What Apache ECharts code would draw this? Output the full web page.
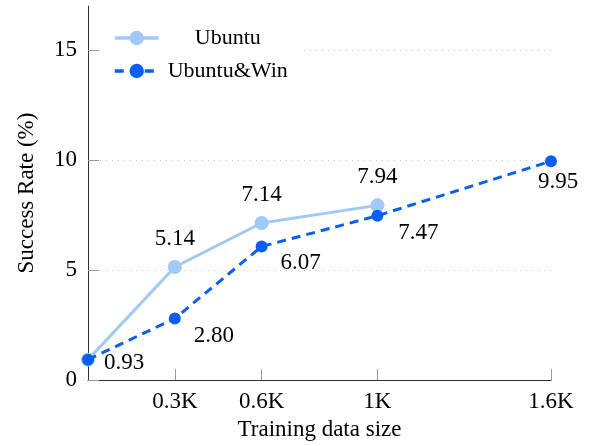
<!DOCTYPE html>
<html>
<head>
<meta charset="utf-8">
<script src="https://cdn.jsdelivr.net/npm/echarts@6/dist/echarts.min.js"></script>
<style>html,body{margin:0;padding:0;background:#fff}#c{width:589px;height:446px}</style>
</head>
<body>
<div id="c"></div>
<script>
const xValues = [0, 0.3, 0.6, 1.0, 1.6];
const ubuntu = [0.93, 5.14, 7.14, 7.94];
const ubuntuWin = [0.93, 2.80, 6.07, 7.47, 9.95];
const xTickValues = [0.3, 0.6, 1.0, 1.6];
const xTickLabels = ['0.3K', '0.6K', '1K', '1.6K'];
const yTickValues = [0, 5, 10, 15];
const seriesNames = ['Ubuntu', 'Ubuntu&Win'];

const FONT = '"Liberation Serif", "Times New Roman", serif';
const LIGHT = '#a0c9f7';
const DARK = '#0a5ef2';
const winOffsets = [[36, 3], [39, 17], [39, 16], [41, 17], [7, 21]];

const chart = echarts.init(document.getElementById('c'), null, {renderer: 'canvas'});
chart.setOption({
  animation: false,
  backgroundColor: '#fff',
  textStyle: {fontFamily: FONT},
  grid: {left: 88, right: 38, top: 6, bottom: 65, containLabel: false},
  legend: {
    left: 100, top: 19, orient: 'vertical',
    backgroundColor: '#fff',
    padding: [8, 15, 8, 13],
    itemWidth: 44, itemHeight: 18, itemGap: 11,
    data: [
      {name: seriesNames[0], lineStyle: {width: 3.5}},
      {name: seriesNames[1], lineStyle: {width: 3.5}}
    ],
    formatter: n => '{a|' + n + '}',
    textStyle: {
      fontFamily: FONT, fontSize: 22, color: '#000',
      rich: {a: {width: 128, align: 'center', fontFamily: FONT, fontSize: 22, color: '#000'}}
    }
  },
  xAxis: {
    type: 'value', min: 0, max: 1.6,
    name: 'Training data size', nameLocation: 'middle', nameGap: 37,
    nameTextStyle: {fontFamily: FONT, fontSize: 23, color: '#000'},
    axisLine: {show: true, lineStyle: {color: '#333', width: 1}},
    axisTick: {show: true, inside: true, length: 11, lineStyle: {color: '#999'}, customValues: xTickValues},
    axisLabel: {
      customValues: xTickValues, margin: 10,
      fontFamily: FONT, fontSize: 23, color: '#000',
      formatter: v => xTickLabels[xTickValues.indexOf(v)] || ''
    },
    splitLine: {show: false}
  },
  yAxis: {
    type: 'value', min: 0, max: 17,
    name: 'Success Rate (%)', nameLocation: 'middle', nameGap: 50,
    nameTextStyle: {fontFamily: FONT, fontSize: 23, color: '#000'},
    axisLine: {show: true, lineStyle: {color: '#333', width: 1}},
    axisTick: {show: true, inside: true, length: 11, lineStyle: {color: '#999'}, customValues: yTickValues},
    axisLabel: {customValues: yTickValues, margin: 11, fontFamily: FONT, fontSize: 23, color: '#000'},
    splitLine: {show: true, lineStyle: {color: '#ccc', type: [1, 5], width: 1}}
  },
  series: [
    {
      name: seriesNames[0], type: 'line',
      data: ubuntu.map((v, i) => ({
        value: [xValues[i], v],
        label: {show: i > 0, position: 'inside', offset: [0, -28]}
      })),
      symbol: 'circle', symbolSize: 14,
      lineStyle: {color: LIGHT, width: 3},
      itemStyle: {color: LIGHT},
      label: {fontFamily: FONT, fontSize: 23, color: '#000', formatter: p => p.value[1].toFixed(2)},
      z: 2
    },
    {
      name: seriesNames[1], type: 'line',
      data: ubuntuWin.map((v, i) => ({
        value: [xValues[i], v],
        label: {show: true, position: 'inside', offset: winOffsets[i]}
      })),
      symbol: 'circle', symbolSize: 12,
      lineStyle: {color: DARK, width: 3, type: [9, 6]},
      itemStyle: {color: DARK},
      label: {fontFamily: FONT, fontSize: 23, color: '#000', formatter: p => p.value[1].toFixed(2)},
      z: 3
    }
  ]
});
</script>
</body>
</html>
